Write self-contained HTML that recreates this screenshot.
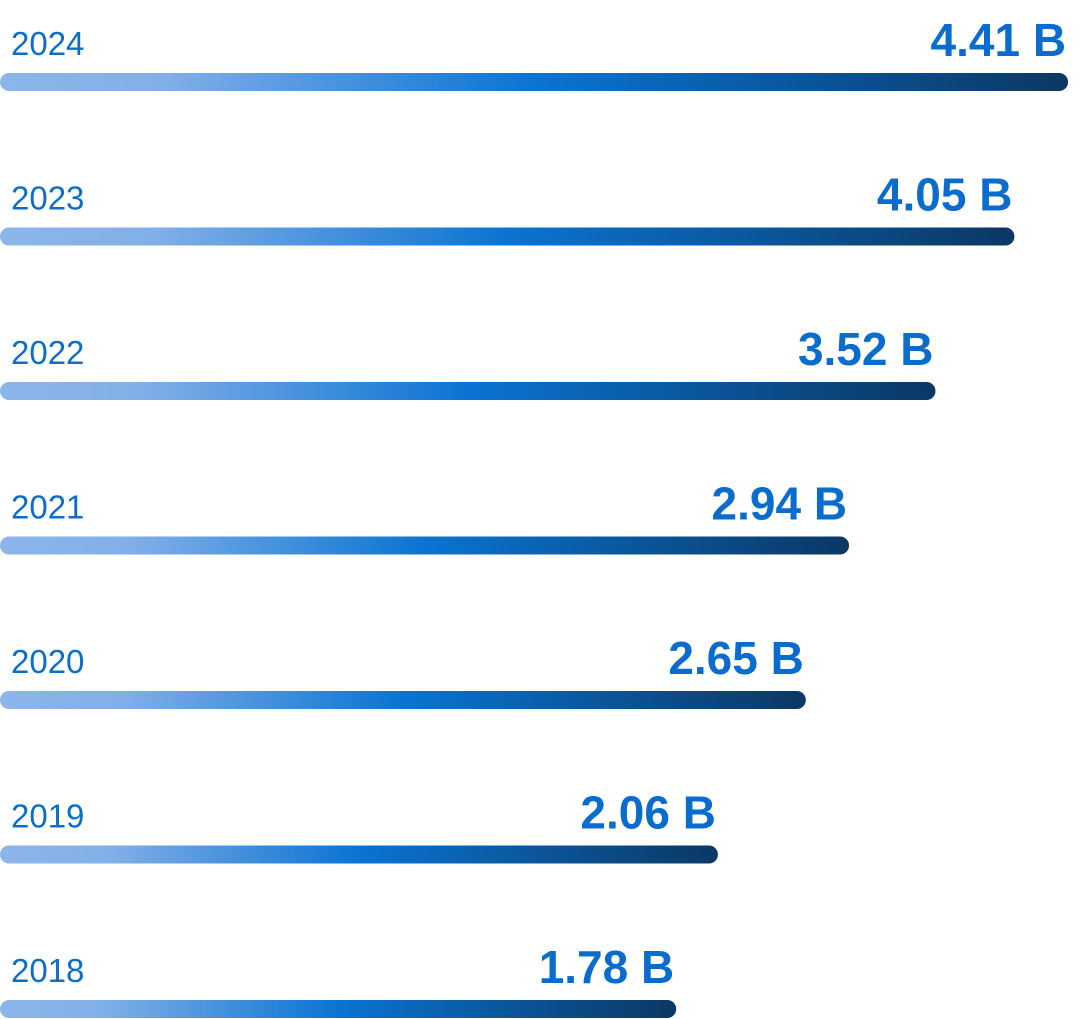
<!DOCTYPE html>
<html><head><meta charset="utf-8"><style>
html,body{margin:0;padding:0;background:#fff;width:1088px;height:1019px;overflow:hidden}
svg{display:block}
.yr{font-family:"Liberation Sans",sans-serif;font-size:33px;fill:#0b6fc9}
.val{font-family:"Liberation Sans",sans-serif;font-size:46px;font-weight:bold;fill:#0a6ccc}
</style></head><body>
<svg id="chart" width="1088" height="1019" viewBox="0 0 1088 1019">
<defs>
<linearGradient id="g" x1="0" x2="1" y1="0" y2="0">
<stop offset="0" stop-color="#8cb6ea"/>
<stop offset="0.15" stop-color="#82afe8"/>
<stop offset="0.5" stop-color="#0a74d2"/>
<stop offset="1" stop-color="#0b3864"/>
</linearGradient>
</defs>
<g id="bars"></g>
</svg>
<script>
const years=["2024","2023","2022","2021","2020","2019","2018"];
const values=[4.41,4.05,3.52,2.94,2.65,2.06,1.78];
const labels=["4.41 B","4.05 B","3.52 B","2.94 B","2.65 B","2.06 B","1.78 B"];
const NS="http://www.w3.org/2000/svg";
function xScale(v){return 411+149*v;}
function yScale(i){return 82+154.5*i;}
const g=document.getElementById('bars');
years.forEach((yr,i)=>{
  const y=yScale(i), x2=xScale(values[i]);
  const r=document.createElementNS(NS,'rect');
  
  
  r.setAttribute('x',0);r.setAttribute('y',y-9);
  r.setAttribute('width',x2);r.setAttribute('height',18);
  r.setAttribute('rx',9);r.setAttribute('fill','url(#g)');
  g.appendChild(r);
  const t=document.createElementNS(NS,'text');
  
  
  t.setAttribute('class','yr');t.setAttribute('x',11);t.setAttribute('y',y-27);
  t.textContent=yr;g.appendChild(t);
  const v=document.createElementNS(NS,'text');
  
  
  v.setAttribute('class','val');v.setAttribute('x',x2-2);v.setAttribute('y',y-26);
  v.setAttribute('text-anchor','end');
  v.textContent=labels[i];g.appendChild(v);
});
</script>
</body></html>
